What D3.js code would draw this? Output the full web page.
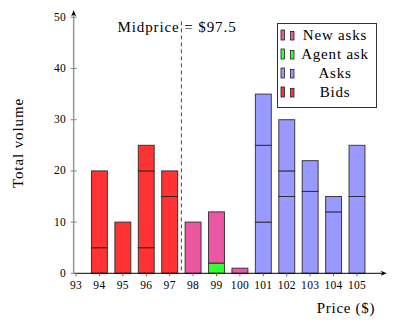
<!DOCTYPE html>
<html>
<head>
<meta charset="utf-8">
<script src="https://cdn.jsdelivr.net/npm/d3@7"></script>
<style>
  body { margin: 0; background: #fff; }
  text { font-family: "Liberation Serif", "DejaVu Serif", serif; fill: #000; }
</style>
</head>
<body>
<div id="chart"></div>
<script>
// prices on the x axis
var prices = [94, 95, 96, 97, 98, 99, 100, 101, 102, 103, 104, 105];
// stacked layers (bottom to top)
var bids1 = [5, 10, 5, 15, 0, 0, 0, 0, 0, 0, 0, 0];
var bids2 = [15, 0, 15, 5, 0, 0, 0, 0, 0, 0, 0, 0];
var bids3 = [0, 0, 5, 0, 0, 0, 0, 0, 0, 0, 0, 0];
var asks1 = [0, 0, 0, 0, 0, 0, 0, 10, 15, 16, 12, 15];
var asks2 = [0, 0, 0, 0, 0, 0, 0, 15, 5, 6, 3, 10];
var asks3 = [0, 0, 0, 0, 0, 0, 0, 10, 10, 0, 0, 0];
var agentAsk = [0, 0, 0, 0, 0, 2, 0, 0, 0, 0, 0, 0];
var newAsks = [0, 0, 0, 0, 10, 10, 1, 0, 0, 0, 0, 0];
var xTicks = [93, 94, 95, 96, 97, 98, 99, 100, 101, 102, 103, 104, 105];
var yTicks = [0, 10, 20, 30, 40, 50];
var midprice = 97.5;

var width = 399, height = 332;

var colors = {
    bids1: "#ff3333", bids2: "#ff3333", bids3: "#ff3333",
    asks1: "#9999ff", asks2: "#9999ff", asks3: "#9999ff",
    agentAsk: "#33ff33", newAsks: "#eb57a3"
};
var keys = ["bids1", "bids2", "bids3", "asks1", "asks2", "asks3", "agentAsk", "newAsks"];
var layers = { bids1: bids1, bids2: bids2, bids3: bids3, asks1: asks1, asks2: asks2, asks3: asks3, agentAsk: agentAsk, newAsks: newAsks };

var table = prices.map(function (p, i) {
    var row = { price: p };
    keys.forEach(function (k) { row[k] = layers[k][i]; });
    return row;
});

var x = d3.scaleLinear().domain([93, 105]).range([76, 357]);
var y = d3.scaleLinear().domain([0, 50]).range([273.3, 17.3]);
var barW = x(93.68) - x(93);

var svg = d3.select("#chart")
    .append("svg")
    .attr("width", width)
    .attr("height", height);

var series = d3.stack().keys(keys)(table);

svg.append("g").selectAll("g")
    .data(series)
    .enter().append("g")
    .attr("fill", function (d) { return colors[d.key]; })
    .selectAll("rect")
    .data(function (d) { return d.filter(function (s) { return s[1] - s[0] > 0; }); })
    .enter().append("rect")
    .attr("x", function (d) { return x(d.data.price) - barW / 2; })
    .attr("y", function (d) { return y(d[1]); })
    .attr("width", barW)
    .attr("height", function (d) { return y(d[0]) - y(d[1]); })
    .attr("stroke", "#222")
    .attr("stroke-opacity", 0.85)
    .attr("stroke-width", 1);

// midprice line
svg.append("line")
    .attr("x1", x(midprice)).attr("x2", x(midprice))
    .attr("y1", y(49.2)).attr("y2", y(0))
    .attr("stroke", "#444")
    .attr("stroke-width", 1)
    .attr("stroke-dasharray", "4,3");

svg.append("text")
    .attr("x", 177)
    .attr("y", 32)
    .attr("text-anchor", "middle")
    .style("font-size", "15px")
    .style("letter-spacing", "0.9px")
    .text("Midprice = $97.5");

// axes
var x0 = x(92.9);
svg.append("line")
    .attr("x1", x0).attr("x2", x(106.1))
    .attr("y1", y(0)).attr("y2", y(0))
    .attr("stroke", "#000").attr("stroke-width", 1);
svg.append("path")
    .attr("d", "M" + (x(106.1) + 4) + "," + y(0) + "l-6,-2.5l1.5,2.5l-1.5,2.5z")
    .attr("fill", "#000");

svg.append("line")
    .attr("x1", x0).attr("x2", x0)
    .attr("y1", y(0)).attr("y2", y(50.6))
    .attr("stroke", "#999").attr("stroke-width", 1.5);
svg.append("path")
    .attr("d", "M" + x0 + "," + (y(50.6) - 4) + "l-2.5,6l2.5,-1.5l2.5,1.5z")
    .attr("fill", "#000");

svg.append("g").selectAll("line")
    .data(xTicks).enter().append("line")
    .attr("x1", function (d) { return x(d); }).attr("x2", function (d) { return x(d); })
    .attr("y1", y(0)).attr("y2", y(0) + 3)
    .attr("stroke", "#666");
svg.append("g").selectAll("text")
    .data(xTicks).enter().append("text")
    .attr("x", function (d) { return x(d); })
    .attr("y", 289)
    .attr("text-anchor", "middle")
    .style("font-size", "11.5px")
    .style("letter-spacing", "0.3px")
    .text(function (d) { return d; });

svg.append("g").selectAll("line")
    .data(yTicks).enter().append("line")
    .attr("x1", x0 - 3).attr("x2", x0 + 3)
    .attr("y1", function (d) { return y(d); }).attr("y2", function (d) { return y(d); })
    .attr("stroke", "#888");
svg.append("g").selectAll("text")
    .data(yTicks).enter().append("text")
    .attr("x", 66)
    .attr("y", function (d) { return y(d) + 3.5; })
    .attr("text-anchor", "end")
    .style("font-size", "11.5px")
    .style("letter-spacing", "0.3px")
    .text(function (d) { return d; });

svg.append("text")
    .attr("transform", "translate(23,143) rotate(-90)")
    .attr("text-anchor", "middle")
    .style("font-size", "15px")
    .style("letter-spacing", "0.9px")
    .text("Total volume");

svg.append("text")
    .attr("x", 346)
    .attr("y", 313)
    .attr("text-anchor", "middle")
    .style("font-size", "15px")
    .style("letter-spacing", "0.7px")
    .text("Price ($)");

// legend
var legendItems = [
    { label: "New asks", color: colors.newAsks },
    { label: "Agent ask", color: colors.agentAsk },
    { label: "Asks", color: colors.asks1 },
    { label: "Bids", color: colors.bids1 }
];
var legend = svg.append("g");
legend.append("rect")
    .attr("x", 277.5).attr("y", 23.5)
    .attr("width", 99).attr("height", 84)
    .attr("fill", "#fff").attr("stroke", "#333");
var rows = legend.selectAll("g.item")
    .data(legendItems).enter().append("g")
    .attr("class", "item")
    .attr("transform", function (d, i) { return "translate(0," + (35 + i * 19) + ")"; });
rows.append("rect")
    .attr("x", 281).attr("y", -5).attr("width", 3.5).attr("height", 10)
    .attr("fill", function (d) { return d.color; })
    .attr("stroke", "#222").attr("stroke-width", 0.8);
rows.append("rect")
    .attr("x", 290.5).attr("y", -3.5).attr("width", 3.5).attr("height", 8.5)
    .attr("fill", function (d) { return d.color; })
    .attr("stroke", "#222").attr("stroke-width", 0.8);
rows.append("text")
    .attr("x", 335)
    .attr("y", 5)
    .attr("text-anchor", "middle")
    .style("font-size", "15px")
    .style("letter-spacing", "0.8px")
    .text(function (d) { return d.label; });
</script>
</body>
</html>
